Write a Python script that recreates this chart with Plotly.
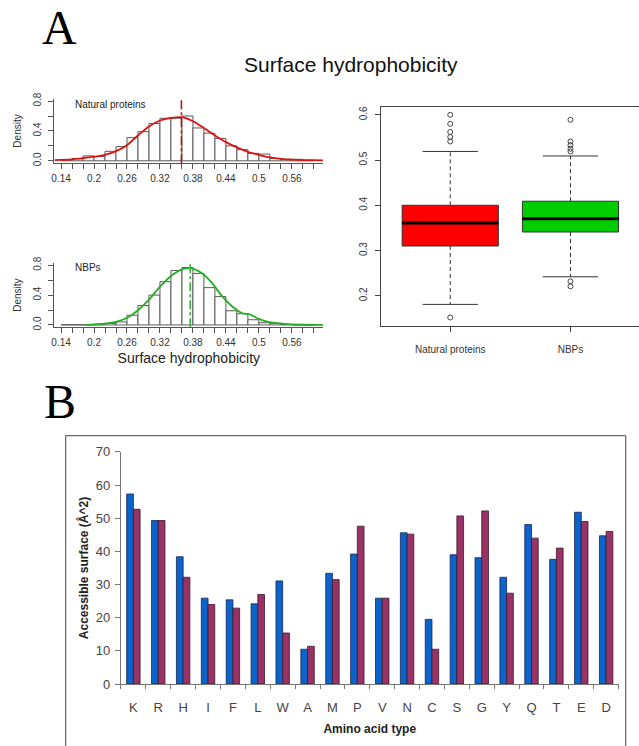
import plotly.graph_objects as go

W, H = 639, 746
FONT = "Liberation Sans, Arial, sans-serif"
SERIF = "Liberation Serif, Times New Roman, serif"

# ---------------- Panel A : histograms ----------------
bin_centers = [0.15, 0.17, 0.19, 0.21, 0.23, 0.25, 0.27, 0.29, 0.31, 0.33, 0.35, 0.37,
               0.39, 0.41, 0.43, 0.45, 0.47, 0.49, 0.51, 0.53, 0.55, 0.57, 0.59]
bin_width = 0.02
nat_density = [0.01, 0.03, 0.066, 0.057, 0.127, 0.19, 0.31, 0.39, 0.50, 0.57, 0.57, 0.60,
               0.44, 0.37, 0.30, 0.20, 0.15, 0.10, 0.09, 0.03, 0.02, 0.02, 0.006]
nbp_density = [0.003, 0.003, 0.003, 0.01, 0.02, 0.04, 0.13, 0.26, 0.40, 0.58, 0.73, 0.77,
               0.69, 0.50, 0.38, 0.19, 0.15, 0.07, 0.03, 0.02, 0.006, 0.0, 0.0]

nat_curve_x = [0.128, 0.16, 0.19, 0.22, 0.24, 0.26, 0.28, 0.30, 0.32, 0.34, 0.36, 0.38,
               0.40, 0.42, 0.44, 0.46, 0.48, 0.50, 0.52, 0.54, 0.56, 0.58, 0.60, 0.617]
nat_curve_y = [0.01, 0.02, 0.045, 0.08, 0.13, 0.21, 0.34, 0.46, 0.54, 0.575, 0.585, 0.53,
               0.44, 0.34, 0.25, 0.18, 0.12, 0.08, 0.045, 0.025, 0.015, 0.01, 0.008, 0.006]

nbp_curve_x = [0.184, 0.215, 0.24, 0.264, 0.282, 0.30, 0.321, 0.339, 0.36, 0.375, 0.397,
               0.415, 0.433, 0.451, 0.469, 0.484, 0.499, 0.517, 0.548, 0.58, 0.617]
nbp_curve_y = [0.0, 0.013, 0.04, 0.11, 0.21, 0.34, 0.52, 0.65, 0.745, 0.76, 0.69,
               0.56, 0.385, 0.25, 0.16, 0.14, 0.084, 0.04, 0.013, 0.003, 0.0]

nat_mean = 0.359
nbp_mean = 0.375

# ---------------- Panel A : box plot ----------------
box_groups = ["Natural proteins", "NBPs"]
box_pos = [1, 2]
box_q1 = [0.31, 0.341]
box_med = [0.361, 0.370]
box_q3 = [0.40, 0.409]
box_low = [0.181, 0.242]
box_high = [0.519, 0.509]
box_colors = ["#ff0000", "#00cd00"]
nat_outliers = [0.152, 0.541, 0.551, 0.562, 0.58, 0.60]
nbp_outliers = [0.221, 0.232, 0.519, 0.525, 0.533, 0.541, 0.589]

# ---------------- Panel B : bar chart ----------------
amino_acids = ["K", "R", "H", "I", "F", "L", "W", "A", "M", "P",
               "V", "N", "C", "S", "G", "Y", "Q", "T", "E", "D"]
surface_natural = [57.3, 49.3, 38.4, 25.9, 25.4, 24.2, 31.1, 10.5, 33.4, 39.2,
                   25.9, 45.6, 19.5, 39.0, 38.1, 32.2, 48.1, 37.6, 51.8, 44.7]
surface_nbp = [52.7, 49.3, 32.2, 24.0, 22.9, 27.0, 15.4, 11.4, 31.5, 47.6,
               25.9, 45.2, 10.5, 50.7, 52.2, 27.4, 44.0, 41.0, 49.0, 46.0]


def fx(px):
    return px / W


def fy(px):
    return 1 - px / H


fig = go.Figure()

# histograms
for ax, dens, cx, cy, ccol in [("1", nat_density, nat_curve_x, nat_curve_y, "#e01010"),
                               ("2", nbp_density, nbp_curve_x, nbp_curve_y, "#22b022")]:
    xa = "x" if ax == "1" else "x2"
    ya = "y" if ax == "1" else "y2"
    fig.add_trace(go.Bar(x=bin_centers, y=dens, width=bin_width, xaxis=xa, yaxis=ya,
                         marker=dict(color="white", line=dict(color="#5a5a5a", width=1)),
                         showlegend=False, hoverinfo="skip"))
    fig.add_trace(go.Scatter(x=cx, y=cy, mode="lines", xaxis=xa, yaxis=ya,
                             line=dict(color=ccol, width=1.8, shape="spline", smoothing=0.8),
                             showlegend=False, hoverinfo="skip"))

# box plot built from the summary statistics
half = 0.4
cap = 0.23
fig.add_trace(go.Bar(x=box_pos, y=[q3 - q1 for q1, q3 in zip(box_q1, box_q3)], base=box_q1,
                     width=2 * half, xaxis="x3", yaxis="y3",
                     marker=dict(color=box_colors, line=dict(color="#333333", width=1)),
                     showlegend=False, hoverinfo="skip"))
wx, wy, cxs, cys, mx, my = [], [], [], [], [], []
for p, q1, m, q3, lo, hi in zip(box_pos, box_q1, box_med, box_q3, box_low, box_high):
    wx += [p, p, None, p, p, None]
    wy += [q3, hi, None, q1, lo, None]
    cxs += [p - cap, p + cap, None, p - cap, p + cap, None]
    cys += [hi, hi, None, lo, lo, None]
    mx += [p - half, p + half, None]
    my += [m, m, None]
fig.add_trace(go.Scatter(x=wx, y=wy, mode="lines", xaxis="x3", yaxis="y3",
                         line=dict(color="#333333", width=1, dash="4px,3px"),
                         showlegend=False, hoverinfo="skip"))
fig.add_trace(go.Scatter(x=cxs, y=cys, mode="lines", xaxis="x3", yaxis="y3",
                         line=dict(color="#333333", width=1),
                         showlegend=False, hoverinfo="skip"))
fig.add_trace(go.Scatter(x=mx, y=my, mode="lines", xaxis="x3", yaxis="y3",
                         line=dict(color="#000000", width=3),
                         showlegend=False, hoverinfo="skip"))
ox = [box_pos[0]] * len(nat_outliers) + [box_pos[1]] * len(nbp_outliers)
oy = nat_outliers + nbp_outliers
fig.add_trace(go.Scatter(x=ox, y=oy, mode="markers", xaxis="x3", yaxis="y3",
                         marker=dict(symbol="circle-open", size=5, color="#444444",
                                     line=dict(width=1)),
                         showlegend=False, hoverinfo="skip"))

# bar chart
fig.add_trace(go.Bar(x=amino_acids, y=surface_natural, xaxis="x4", yaxis="y4",
                     marker=dict(color="#0a64cc", line=dict(color="#1a2450", width=0.8)),
                     showlegend=False, hoverinfo="skip"))
fig.add_trace(go.Bar(x=amino_acids, y=surface_nbp, xaxis="x4", yaxis="y4",
                     marker=dict(color="#993366", line=dict(color="#3a1a2a", width=0.8)),
                     showlegend=False, hoverinfo="skip"))

tickfont = dict(family=FONT, size=10, color="#333333")
hist_x = dict(range=[0.128, 0.617], domain=[fx(51.7), fx(321.7)], showline=True,
              linecolor="#555555", linewidth=1, ticks="outside", ticklen=5,
              tickcolor="#555555", tick0=0.14, dtick=0.06, tickformat=".2~f",
              minor=dict(tick0=0.14, dtick=0.02, ticks="outside", ticklen=5,
                         tickcolor="#555555", showgrid=False),
              showgrid=False, zeroline=False, tickfont=tickfont, ticklabelstandoff=1)
hist_y = dict(range=[-0.032, 0.832], showline=True, linecolor="#555555", linewidth=1,
              ticks="outside", ticklen=5, tickcolor="#555555", tick0=0, dtick=0.4,
              tickformat=".1f", tickangle=-90,
              minor=dict(tick0=0, dtick=0.2, ticks="outside", ticklen=5,
                         tickcolor="#555555", showgrid=False),
              showgrid=False, zeroline=False, tickfont=tickfont, ticklabelstandoff=3,
              title=dict(text="Density", font=dict(family=FONT, size=10, color="#333333"),
                         standoff=8))

fig.update_layout(
    width=W, height=H, margin=dict(l=0, r=0, t=0, b=0),
    paper_bgcolor="white", plot_bgcolor="white",
    bargap=0.46, bargroupgap=0.0, barmode="group",
    font=dict(family=FONT, color="#333333"),
    xaxis=dict(**hist_x, anchor="y"),
    yaxis=dict(**hist_y, anchor="x", domain=[fy(159.4), fy(93.6)]),
    xaxis2=dict(**hist_x, anchor="y2",
                title=dict(text="Surface hydrophobicity",
                           font=dict(family=FONT, size=14, color="#222222"), standoff=5)),
    yaxis2=dict(**hist_y, anchor="x2", domain=[fy(326.9), fy(261.1)]),
    xaxis3=dict(range=[0.42, 2.57], domain=[fx(379.3), 1.0], anchor="y3",
                showline=True, mirror=True, linecolor="#444444", linewidth=1,
                tickvals=box_pos, ticktext=box_groups, ticks="outside", ticklen=5,
                tickcolor="#444444", showgrid=False, zeroline=False,
                tickfont=tickfont, ticklabelstandoff=9),
    yaxis3=dict(range=[0.1329, 0.6167], domain=[fy(325.7), fy(102.3)], anchor="x3",
                showline=True, linecolor="#444444", linewidth=1, ticks="outside",
                ticklen=5, tickcolor="#444444", tick0=0.2, dtick=0.1, tickformat=".1f",
                tickangle=-90, showgrid=False, zeroline=False, tickfont=tickfont,
                ticklabelstandoff=4),
    xaxis4=dict(domain=[fx(118.5), fx(618.5)], anchor="y4", showline=True,
                linecolor="#777777", linewidth=1, ticks="outside", ticklen=4,
                tickson="boundaries", tickcolor="#777777", showgrid=False,
                tickfont=dict(family=FONT, size=13, color="#444444"), ticklabelstandoff=11,
                title=dict(text="<b>Amino acid type</b>",
                           font=dict(family=FONT, size=12, color="#222222"), standoff=10)),
    yaxis4=dict(range=[0, 70], domain=[fy(691), fy(454)], anchor="x4", showline=True,
                linecolor="#777777", linewidth=1, ticks="outside", ticklen=5,
                tickcolor="#777777", dtick=10, showgrid=False, zeroline=False,
                tickfont=dict(family=FONT, size=13, color="#444444"), ticklabelstandoff=2,
                title=dict(text="<b>Accessible surface (Å^2)</b>",
                           font=dict(family=FONT, size=12, color="#222222"), standoff=4)),
    shapes=[
        dict(type="line", xref="x", yref="y domain", x0=nat_mean, x1=nat_mean, y0=0, y1=1,
             line=dict(color="#b01818", width=1.6, dash="dashdot")),
        dict(type="line", xref="x2", yref="y2 domain", x0=nbp_mean, x1=nbp_mean, y0=0, y1=1,
             line=dict(color="#40b040", width=1.6, dash="dashdot")),
        dict(type="rect", xref="paper", yref="paper", x0=fx(63), x1=fx(625.7),
             y0=-0.05, y1=fy(437.5), line=dict(color="#444444", width=1),
             fillcolor="rgba(0,0,0,0)", layer="below"),
    ],
    annotations=[
        dict(text="A", xref="paper", yref="paper", x=fx(57), y=fy(21), showarrow=False,
             font=dict(family=SERIF, size=48, color="black"), xanchor="center", yanchor="middle"),
        dict(text="B", xref="paper", yref="paper", x=fx(57), y=fy(403), showarrow=False,
             font=dict(family=SERIF, size=48, color="black"), xanchor="center", yanchor="middle"),
        dict(text="Surface hydrophobicity", xref="paper", yref="paper", x=fx(350), y=fy(59),
             showarrow=False, font=dict(family=FONT, size=21, color="#111111"),
             xanchor="center", yanchor="middle"),
        dict(text="Natural proteins", xref="paper", yref="paper", x=fx(70), y=fy(100),
             showarrow=False, font=dict(family=FONT, size=10, color="#222222"),
             xanchor="left", yanchor="middle"),
        dict(text="NBPs", xref="paper", yref="paper", x=fx(70), y=fy(266),
             showarrow=False, font=dict(family=FONT, size=10, color="#222222"),
             xanchor="left", yanchor="middle"),
    ],
)

fig.write_html("out.html", post_script="document.body.style.margin='0';",
               config={"displayModeBar": False})
